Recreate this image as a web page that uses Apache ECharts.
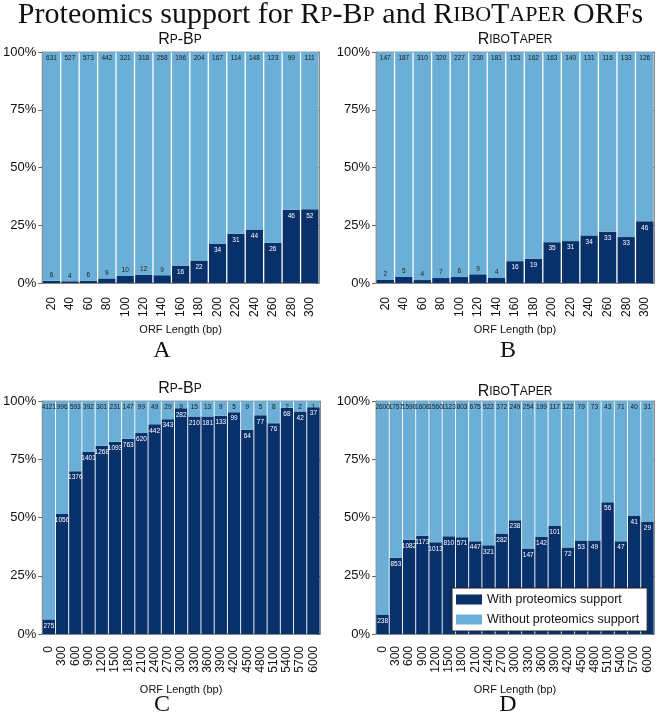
<!DOCTYPE html>
<html>
<head>
<meta charset="utf-8">
<script src="https://cdn.jsdelivr.net/npm/echarts@6/dist/echarts.min.js"></script>
<style>html,body{margin:0;padding:0;background:#fff;}#c{width:661px;height:715px;}</style>
</head>
<body>
<div id="c"></div>
<script>
// ---- Data ----
const shortCats = ['20','40','60','80','100','120','140','160','180','200','220','240','260','280','300'];
const longCats = ['0','300','600','900','1200','1500','1800','2100','2400','2700','3000','3300','3600','3900','4200','4500','4800','5100','5400','5700','6000'];

const rpbpShortWith    = [6, 4, 6, 9, 10, 12, 9, 16, 22, 34, 31, 44, 26, 46, 52];
const rpbpShortWithout = [631, 527, 573, 442, 321, 318, 258, 196, 204, 167, 114, 148, 123, 99, 111];
const riboShortWith    = [2, 5, 4, 7, 6, 9, 4, 16, 19, 35, 31, 34, 33, 33, 46];
const riboShortWithout = [147, 187, 310, 320, 227, 230, 181, 153, 162, 163, 140, 131, 116, 133, 126];

const rpbpLongWith    = [275, 1056, 1376, 1401, 1268, 1093, 763, 620, 442, 343, 282, 210, 181, 133, 99, 64, 77, 76, 68, 42, 37];
const rpbpLongWithout = [4121, 996, 593, 392, 301, 231, 147, 99, 49, 29, 9, 15, 13, 9, 5, 9, 5, 8, 2, 2, 1];
const riboLongWith    = [238, 853, 1082, 1173, 1013, 810, 571, 447, 321, 282, 238, 147, 142, 101, 72, 53, 49, 56, 47, 41, 29];
const riboLongWithout = [2600, 1757, 1590, 1608, 1560, 1123, 803, 675, 522, 372, 249, 254, 199, 117, 122, 79, 73, 43, 71, 40, 31];

const yTicks = [0, 25, 50, 75, 100];

// ---- Styles ----
const DARK = '#08306b', LIGHT = '#6baed6';
const SANS = 'Liberation Sans, Arial, sans-serif';
const SERIF = 'Liberation Serif, Times New Roman, serif';

const panels = [
  {cats: shortCats, w: rpbpShortWith, wo: rpbpShortWithout, left: 42, top: 52, width: 277, height: 231, nameGap: 41, margin: 14},
  {cats: shortCats, w: riboShortWith, wo: riboShortWithout, left: 376, top: 52, width: 278, height: 231, nameGap: 41, margin: 14},
  {cats: longCats, w: rpbpLongWith, wo: rpbpLongWithout, left: 42, top: 401, width: 278, height: 233, nameGap: 50, margin: 12},
  {cats: longCats, w: riboLongWith, wo: riboLongWithout, left: 376, top: 401, width: 278, height: 233, nameGap: 50, margin: 12}
];

const grid = [], xAxis = [], yAxis = [], series = [];
panels.forEach((p, i) => {
  grid.push({left: p.left, top: p.top, width: p.width, height: p.height, show: true, borderColor: '#999', borderWidth: 1, backgroundColor: 'transparent'});
  xAxis.push({
    type: 'category', gridIndex: i, data: p.cats,
    axisLine: {lineStyle: {color: '#8a8a8a'}},
    axisTick: {alignWithLabel: true, length: 4, lineStyle: {color: '#666'}},
    axisLabel: {rotate: 90, fontSize: 12, color: '#111', fontFamily: SANS, margin: p.margin, interval: 0},
    name: 'ORF Length (bp)', nameLocation: 'middle', nameGap: p.nameGap,
    nameTextStyle: {fontSize: 11, color: '#111', fontFamily: SANS}
  });
  yAxis.push({
    type: 'value', gridIndex: i, min: 0, max: 100, interval: 25,
    axisLine: {show: true, lineStyle: {color: '#8a8a8a'}},
    axisTick: {show: true, length: 4, lineStyle: {color: '#666'}},
    splitLine: {show: false},
    axisLabel: {formatter: v => yTicks.includes(v) ? v + '%' : '', fontSize: 13, color: '#111', fontFamily: SANS, margin: 6}
  });
  yAxis.push({
    type: 'value', gridIndex: i, min: 0, max: 100, interval: 25, position: 'right',
    axisLine: {show: true, lineStyle: {color: '#8a8a8a'}},
    axisTick: {show: true, inside: true, length: 3, lineStyle: {color: '#666'}},
    splitLine: {show: false}, axisLabel: {show: false}
  });
  const wPct = p.w.map((v, k) => v / (v + p.wo[k]) * 100);
  const woPct = p.wo.map((v, k) => v / (v + p.w[k]) * 100);
  series.push({
    name: 'With proteomics support', type: 'bar', stack: 's' + i,
    xAxisIndex: i, yAxisIndex: 2 * i, barCategoryGap: '7%',
    itemStyle: {color: DARK},
    data: wPct.map((v, k) => ({
      value: v,
      label: v < 5
        ? {show: true, position: 'top', distance: 2, color: '#222'}
        : {show: true, position: 'insideTop', distance: 3, color: '#fff'}
    })),
    label: {show: true, fontSize: 6.5, fontFamily: SANS, formatter: prm => String(p.w[prm.dataIndex])},
    emphasis: {disabled: true}
  });
  series.push({
    name: 'Without proteomics support', type: 'bar', stack: 's' + i,
    xAxisIndex: i, yAxisIndex: 2 * i, barCategoryGap: '7%',
    itemStyle: {color: LIGHT},
    data: woPct,
    label: {show: true, position: 'insideTop', distance: 3, color: '#1a1a1a', fontSize: 6.5, fontFamily: SANS,
      formatter: prm => String(p.wo[prm.dataIndex])},
    emphasis: {disabled: true}
  });
});

const big = {fontFamily: SERIF, fontSize: 30, fontWeight: 'normal', color: '#111'};
const sc = {fontFamily: SERIF, fontSize: 22, fontWeight: 'normal', color: '#111'};
const sBig = {fontFamily: SANS, fontSize: 16, fontWeight: 'normal', color: '#111'};
const sSc = {fontFamily: SANS, fontSize: 12, fontWeight: 'normal', color: '#111'};
const letter = {fontFamily: SERIF, fontSize: 24, fontWeight: 'normal', color: '#111'};

const title = [
  {text: '{a|Proteomics support for R}{b|P}{a|-B}{b|P}{a| and R}{b|IBO}{a|T}{b|APER}{a| ORFs}',
   left: 'center', top: 0, padding: 0, textStyle: {fontWeight: 'normal', rich: {a: big, b: sc}}},
  {text: '{a|R}{b|P}{a|-B}{b|P}', left: 180, textAlign: 'center', top: 32, padding: 0, textStyle: {fontWeight: 'normal', rich: {a: sBig, b: sSc}}},
  {text: '{a|R}{b|IBO}{a|T}{b|APER}', left: 515, textAlign: 'center', top: 32, padding: 0, textStyle: {fontWeight: 'normal', rich: {a: sBig, b: sSc}}},
  {text: '{a|R}{b|P}{a|-B}{b|P}', left: 180, textAlign: 'center', top: 381, padding: 0, textStyle: {fontWeight: 'normal', rich: {a: sBig, b: sSc}}},
  {text: '{a|R}{b|IBO}{a|T}{b|APER}', left: 515, textAlign: 'center', top: 384, padding: 0, textStyle: {fontWeight: 'normal', rich: {a: sBig, b: sSc}}},
  {text: 'A', left: 162, textAlign: 'center', top: 339, padding: 0, textStyle: letter},
  {text: 'B', left: 508, textAlign: 'center', top: 339, padding: 0, textStyle: letter},
  {text: 'C', left: 162, textAlign: 'center', top: 693, padding: 0, textStyle: letter},
  {text: 'D', left: 508, textAlign: 'center', top: 693, padding: 0, textStyle: letter}
];

const chart = echarts.init(document.getElementById('c'), null, {renderer: 'canvas'});
chart.setOption({
  animation: false,
  backgroundColor: '#fff',
  title,
  legend: {
    orient: 'vertical', left: 452, top: 588, width: 196,
    data: ['With proteomics support', 'Without proteomics support'],
    itemWidth: 26, itemHeight: 10, itemGap: 7,
    padding: [5, 8, 5, 4],
    backgroundColor: '#fff', borderColor: '#222', borderWidth: 1, borderRadius: 0,
    icon: 'rect', selectedMode: false,
    textStyle: {fontSize: 12.5, fontFamily: SANS, color: '#111'}
  },
  grid, xAxis, yAxis, series
});
</script>
</body>
</html>
